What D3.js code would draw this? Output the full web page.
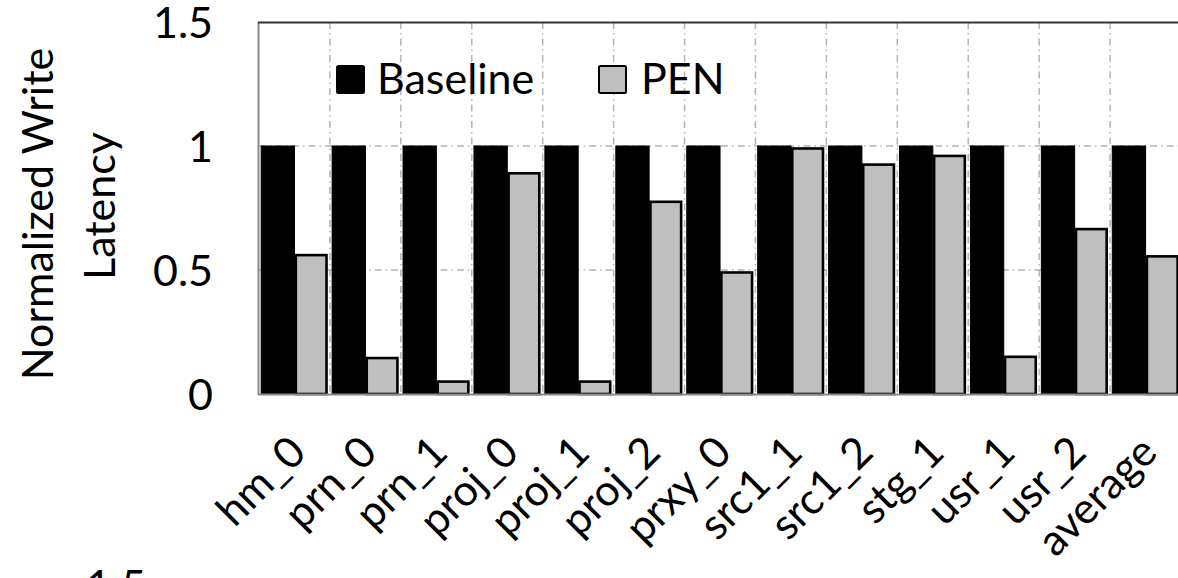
<!DOCTYPE html>
<html>
<head>
<meta charset="utf-8">
<script src="https://cdn.jsdelivr.net/npm/d3@7"></script>
<style>
  html, body { margin: 0; padding: 0; background: #fff; }
  svg { display: block; }
  text { font-family: Lato, "Noto Sans", sans-serif; fill: #000; }
</style>
</head>
<body>
<svg id="chart" width="1178" height="578"></svg>
<script>
// Workloads on the x axis
const categories = ["hm_0", "prn_0", "prn_1", "proj_0", "proj_1", "proj_2", "prxy_0",
                    "src1_1", "src1_2", "stg_1", "usr_1", "usr_2", "average"];
const seriesNames = ["Baseline", "PEN"];
// Write latency normalized to Baseline
const baselineValues = [1, 1, 1, 1, 1, 1, 1, 1, 1, 1, 1, 1, 1];
const penValues = [0.56, 0.145, 0.05, 0.89, 0.05, 0.775, 0.49, 0.99, 0.925, 0.96, 0.15, 0.665, 0.555];
const yTicks = [0, 0.5, 1, 1.5];

const margin = { left: 259, top: 22, bottom: 394 };
const plotRight = 1181; // plot area runs just past the right edge

const svg = d3.select("#chart");
const FONT = 43;

const x0 = d3.scaleBand().domain(categories).range([margin.left, plotRight]).padding(0);
const x1 = d3.scaleBand().domain(seriesNames).range([2.2, x0.bandwidth() - 2.1]).padding(0);
const y = d3.scaleLinear().domain([0, 1.5]).range([margin.bottom, margin.top]);

const colors = { Baseline: "#000000", PEN: "#bfbfbf" };

// horizontal gridlines
svg.append("g").selectAll("line")
  .data(yTicks.filter(t => t > 0 && t < 1.5))
  .join("line")
  .attr("x1", margin.left).attr("x2", plotRight)
  .attr("y1", d => y(d)).attr("y2", d => y(d))
  .attr("stroke", "#b4b4b4").attr("stroke-width", 1.5)
  .attr("stroke-dasharray", "7,4,1.5,4");

// vertical gridlines between categories
svg.append("g").selectAll("line")
  .data(categories.slice(1))
  .join("line")
  .attr("x1", d => x0(d)).attr("x2", d => x0(d))
  .attr("y1", margin.top).attr("y2", margin.bottom)
  .attr("stroke", "#b4b4b4").attr("stroke-width", 1.5)
  .attr("stroke-dasharray", "7,4,1.5,4");

// bars
const rows = categories.map((c, i) => ({ cat: c, Baseline: baselineValues[i], PEN: penValues[i] }));
const groups = svg.append("g").selectAll("g")
  .data(rows).join("g")
  .attr("transform", d => `translate(${x0(d.cat)},0)`);

groups.append("rect")
  .attr("x", x1("Baseline"))
  .attr("width", x1.bandwidth())
  .attr("y", d => y(d.Baseline))
  .attr("height", d => y(0) - y(d.Baseline))
  .attr("fill", colors.Baseline)
  .attr("stroke", "#000").attr("stroke-width", 1);

const sw = 2.6;
groups.append("rect")
  .attr("x", x1("PEN") + sw / 2)
  .attr("width", x1.bandwidth() - sw)
  .attr("y", d => y(d.PEN))
  .attr("height", d => y(0) - y(d.PEN))
  .attr("fill", colors.PEN)
  .attr("stroke", "#000").attr("stroke-width", sw);

// plot frame: left and bottom axis lines in gray, top border dark
svg.append("line")
  .attr("x1", margin.left - 0.5).attr("x2", margin.left - 0.5)
  .attr("y1", margin.top).attr("y2", margin.bottom + 1)
  .attr("stroke", "#8a8a8a").attr("stroke-width", 2);
svg.append("line")
  .attr("x1", margin.left - 1).attr("x2", plotRight)
  .attr("y1", margin.bottom + 0.5).attr("y2", margin.bottom + 0.5)
  .attr("stroke", "#8a8a8a").attr("stroke-width", 2);
svg.append("line")
  .attr("x1", margin.left - 1).attr("x2", plotRight)
  .attr("y1", margin.top + 0.5).attr("y2", margin.top + 0.5)
  .attr("stroke", "#333").attr("stroke-width", 2);

// y axis tick labels
const yAxis = d3.axisLeft(y).tickValues(yTicks).tickSize(0).tickPadding(0)
  .tickFormat(d => d3.format("")(d));
const ya = svg.append("g")
  .attr("transform", `translate(${213},0)`)
  .call(yAxis);
ya.select(".domain").remove();
ya.selectAll("text")
  .attr("font-size", FONT)
  .attr("font-family", "Lato, 'Noto Sans', sans-serif")
  .attr("fill", "#000")
  .attr("dy", "0.36em");

// y axis title, two lines
const titleLines = ["Normalized Write", "Latency"];
const titlePos = [{ x: 53, y: 214 }, { x: 115, y: 206 }];
svg.append("g").selectAll("text")
  .data(titleLines).join("text")
  .attr("transform", (d, i) => `translate(${titlePos[i].x},${titlePos[i].y}) rotate(-90)`)
  .attr("text-anchor", "middle")
  .attr("font-size", FONT)
  .text(d => d);

// x axis labels, rotated 45 degrees and ending at each category centre
svg.append("g").selectAll("text")
  .data(categories).join("text")
  .attr("transform", d => `translate(${x0(d) + x0.bandwidth() / 2 + 3},${444}) rotate(-45)`)
  .attr("text-anchor", "end")
  .attr("dy", "0.35em")
  .attr("font-size", FONT)
  .text(d => d);

// legend
const legendItems = [
  { name: "Baseline", sx: 336, tx: 377 },
  { name: "PEN", sx: 598, tx: 641 }
];
const lg = svg.append("g");
lg.selectAll("rect")
  .data(legendItems).join("rect")
  .attr("x", d => d.sx + 1).attr("y", 66)
  .attr("width", 27).attr("height", 27)
  .attr("rx", 1.5)
  .attr("fill", d => colors[d.name])
  .attr("stroke", "#000").attr("stroke-width", 2);
lg.selectAll("text")
  .data(legendItems).join("text")
  .attr("x", d => d.tx).attr("y", 94)
  .attr("font-size", FONT)
  .text(d => d.name);

// top of the axis label of the next panel below
svg.append("text")
  .attr("x", 146).attr("y", 601)
  .attr("text-anchor", "end")
  .attr("font-size", FONT)
  .text("1.5");
</script>
</body>
</html>
